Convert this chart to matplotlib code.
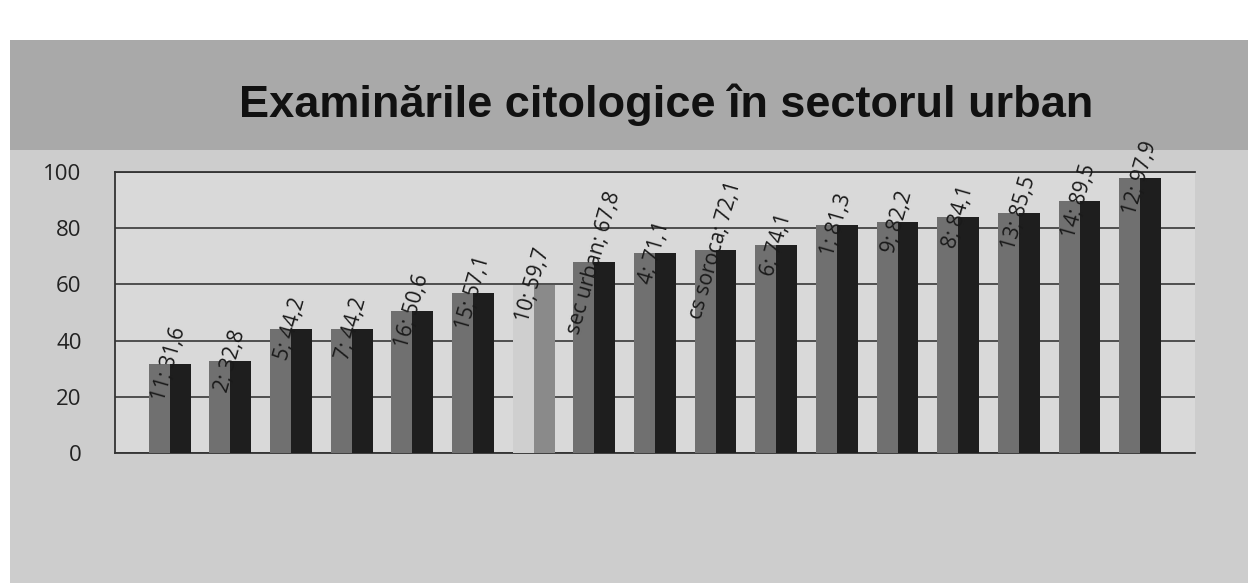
import matplotlib.pyplot as plt
import matplotlib.patches as mpatches

categories = ['11', '2', '5', '7', '16', '15', '10', 'sec urban', '4', 'cs soroca',
              '6', '1', '9', '8', '13', '14', '12']
values = [31.6, 32.8, 44.2, 44.2, 50.6, 57.1, 59.7, 67.8, 71.1, 72.1,
          74.1, 81.3, 82.2, 84.1, 85.5, 89.5, 97.9]
highlight = '10'

plt.rcParams['font.family'] = ['Open Sans', 'DejaVu Sans']

fig = plt.figure(figsize=(12.57, 5.83), dpi=100, facecolor='white')

# scanned page background: chart box with darker band at the top
fig.patches.append(mpatches.Rectangle((0.008, 0.0), 0.985, 0.932, transform=fig.transFigure,
                                      facecolor='#cdcdcd', edgecolor='none', zorder=-10))
fig.patches.append(mpatches.Rectangle((0.008, 0.742), 0.985, 0.19, transform=fig.transFigure,
                                      facecolor='#a9a9a9', edgecolor='none', zorder=-10))

ax = fig.add_axes([0.0915, 0.223, 0.859, 0.482])
ax.set_zorder(5)
ax.set_facecolor('#d9d9d9')

w = 0.345
for i, (c, v) in enumerate(zip(categories, values)):
    if c == highlight:
        front, side = '#cfcfcf', '#8a8a8a'
    else:
        front, side = '#707070', '#1e1e1e'
    ax.bar(i - w / 2, v, width=w, color=front, zorder=3)
    ax.bar(i + w / 2, v, width=w, color=side, zorder=3)
    ax.text(i, v, f'{c}; {str(v).replace(".", ",")}', rotation=74,
            ha='center', va='center', fontsize=15, color='#1a1a1a', zorder=4,
            clip_on=False)

ax.set_ylim(0, 100)
ax.set_xlim(-0.9, len(categories) - 0.1)
ax.set_yticks([0, 20, 40, 60, 80, 100])
ax.set_xticks([])
ax.tick_params(axis='y', labelsize=16, length=0, pad=24, colors='#222222')
ax.grid(axis='y', color='#444444', linewidth=1.3, zorder=1)
for s in ['left', 'bottom', 'top']:
    ax.spines[s].set_color('#333333')
    ax.spines[s].set_linewidth(1.3)
ax.spines['right'].set_visible(False)

fig.text(0.53, 0.82, 'Examinările citologice în sectorul urban', ha='center', va='center',
         fontsize=32.5, fontweight='bold', color='#111111',
         family=['Liberation Sans', 'DejaVu Sans'])

fig.savefig('out.png', dpi=100, facecolor=fig.get_facecolor())
